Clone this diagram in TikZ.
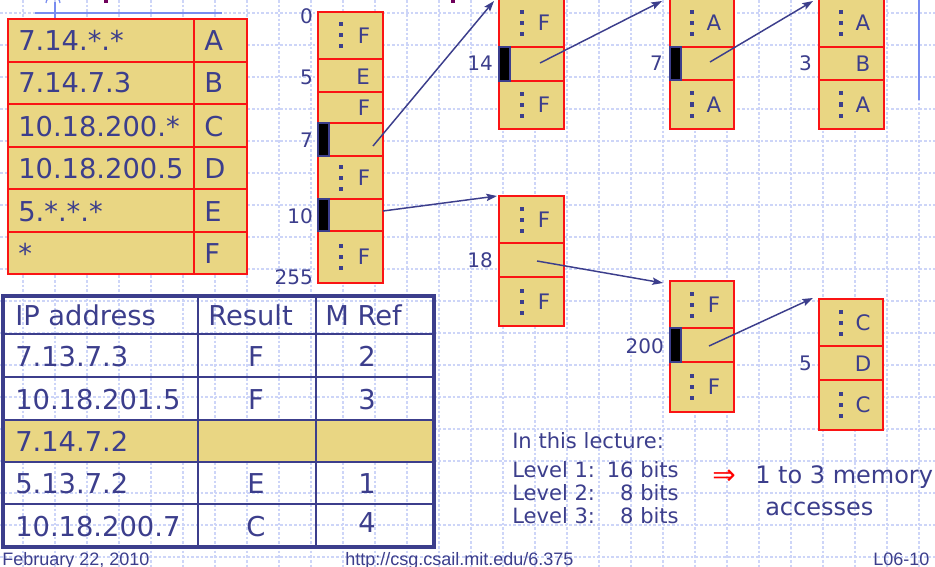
\documentclass[tikz,border=0pt]{standalone}
\usepackage{fontspec}
\setmainfont{DejaVu Sans}
\newfontfamily\footfont{Liberation Sans}
\usetikzlibrary{fit,arrows.meta}
\definecolor{tan}{RGB}{233,214,131}
\definecolor{tb}{RGB}{60,62,140}
\definecolor{gridc}{RGB}{205,213,248}
\definecolor{rline}{RGB}{250,20,20}
\definecolor{vblue}{RGB}{120,140,240}
\definecolor{purp}{RGB}{110,0,90}
\newcommand\sqdots[2]{\foreach \dy in {-11,0,11}{\fill[tb] ({#1-2},{#2+\dy-2}) rectangle ({#1+2},{#2+\dy+2});}}
\begin{document}
\begin{tikzpicture}[x=0.75pt,y=-0.75pt,
  cell/.style={draw=rline,fill=tan,line width=1.1pt,inner sep=0pt,outer sep=0pt},
  blk/.style={draw=tb,fill=black,line width=0.8pt,inner sep=0pt,outer sep=0pt},
  lt/.style={text=tb,font=\fontsize{16}{19}\selectfont,inner sep=0pt},
  lbl/.style={text=tb,font=\fontsize{15}{18}\selectfont,inner sep=0pt,anchor=east},
  bigtxt/.style={text=tb,font=\fontsize{20.5}{24}\selectfont,inner sep=0pt,anchor=base west},
  bigc/.style={text=tb,font=\fontsize{20.5}{24}\selectfont,inner sep=0pt,anchor=base},
  midtxt/.style={text=tb,font=\fontsize{15.8}{19}\selectfont,inner sep=0pt,anchor=base west},
  foot/.style={text=tb,font=\footfont\fontsize{13.5}{16}\selectfont,inner sep=0pt,anchor=base west},
  ptr/.style={draw=tb,line width=1.1pt,-{Stealth[length=8pt,width=5.5pt,inset=1.5pt]}},
  gridline/.style={draw=gridc,line width=0.8pt,dash pattern=on 2pt off 1.5pt},
]
\useasboundingbox (0,0) rectangle (935,567);
\clip (0,0) rectangle (935,567);
\fill[white] (0,0) rectangle (935,567);
% background grid
\foreach \gx in {23,55,...,919} \draw[gridline] (\gx,0) -- (\gx,567);
\foreach \gy in {13,45,...,557} \draw[gridline] (0,\gy) -- (935,\gy);
% decorations at the top
\draw[vblue,line width=1pt] (35,13) -- (222,13);
\draw[vblue,line width=0.9pt] (55,2) -- (55,20);
\draw[vblue,line width=0.9pt] (60,3) arc (0:-180:7 and 6);
\draw[vblue,line width=1.8pt] (919,0) -- (919,100);
\fill[purp] (104,0) rectangle (108,3);
\fill[purp] (451,0) rectangle (455,3);

% ---------- prefix table ----------
\fill[tan] (8,19) rectangle (247,274);
\foreach \ry in {62,104,147,232} \draw[rline,line width=1.1pt] (8,\ry) -- (247,\ry);
\draw[rline,line width=1.8pt] (8,189) -- (247,189);
\draw[rline,line width=1.1pt] (194,19) -- (194,274);
\draw[rline,line width=1.4pt] (8,19) rectangle (247,274);
\node[bigtxt] (p1) at (18,51) {7.14.*.*};
\node[bigtxt] (p2) at (18,93) {7.14.7.3};
\node[bigtxt] (p3) at (18,136) {10.18.200.*};
\node[bigtxt] (p4) at (18,178) {10.18.200.5};
\node[bigtxt] (p5) at (18,221) {5.*.*.*};
\node[bigtxt] (p6) at (18,263) {*};
\node[bigtxt] (r1) at (204,51) {A};
\node[bigtxt] (r2) at (204,93) {B};
\node[bigtxt] (r3) at (204,136) {C};
\node[bigtxt] (r4) at (204,178) {D};
\node[bigtxt] (r5) at (204,221) {E};
\node[bigtxt] (r6) at (204,263) {F};

% ---------- level 1 array ----------
\node[cell,fit={(318,12)(383,59)}] (La) {};
\node[cell,fit={(318,59)(383,92)}] (Lb) {};
\node[cell,fit={(318,92)(383,123)}] (Lc) {};
\node[cell,fit={(318,123)(383,156)}] (Ld) {};
\node[cell,fit={(318,156)(383,199)}] (Le) {};
\node[cell,fit={(318,199)(383,231)}] (Lf) {};
\node[cell,fit={(318,231)(383,283)}] (Lg) {};
\node[blk,fit={(318,123)(329,156)}] (Lmd) {};
\node[blk,fit={(318,199)(329,231)}] (Lmf) {};
\sqdots{341}{35.5}\sqdots{341}{177.5}\sqdots{341}{257}
\node[lt] (La-t) at (364,35.5) {F};
\node[lt] (Lb-t) at (363,77) {E};
\node[lt] (Lc-t) at (364,108) {F};
\node[lt] (Le-t) at (364,177.5) {F};
\node[lt] (Lg-t) at (364,257) {F};
\node[lbl] (l0) at (313,16) {0};
\node[lbl] (l5) at (313,77) {5};
\node[lbl] (l7) at (313,140) {7};
\node[lbl] (l10) at (313,216) {10};
\node[lbl] (l255) at (313,277) {255};

% ---------- level 2 array for 7 ----------
\node[cell,fit={(499,-1)(564,47)}] (Ma) {};
\node[cell,fit={(499,47)(564,81)}] (Mb) {};
\node[cell,fit={(499,81)(564,129)}] (Mc) {};
\node[blk,fit={(499,47)(510,81)}] (Mmb) {};
\sqdots{522}{23}\sqdots{522}{105}
\node[lt] (Ma-t) at (544,23) {F};
\node[lt] (Mc-t) at (544,105) {F};
\node[lbl] (l14) at (493,63) {14};

% ---------- level 2 array for 10 ----------
\node[cell,fit={(499,196)(564,243)}] (Na) {};
\node[cell,fit={(499,243)(564,277)}] (Nb) {};
\node[cell,fit={(499,277)(564,326)}] (Nc) {};
\sqdots{522}{219.5}\sqdots{522}{301.5}
\node[lt] (Na-t) at (544,219.5) {F};
\node[lt] (Nc-t) at (544,301.5) {F};
\node[lbl] (l18) at (493,260) {18};

% ---------- level 3 array for 7.14 ----------
\node[cell,fit={(670,-1)(734,47)}] (Pa) {};
\node[cell,fit={(670,47)(734,80)}] (Pb) {};
\node[cell,fit={(670,80)(734,129)}] (Pc) {};
\node[blk,fit={(670,47)(681,80)}] (Pmb) {};
\sqdots{692}{23}\sqdots{692}{104.5}
\node[lt] (Pa-t) at (714,23) {A};
\node[lt] (Pc-t) at (714,104.5) {A};
\node[lbl] (lp7) at (663,63) {7};

% ---------- level 4 array for 7.14.7 ----------
\node[cell,fit={(819,-1)(884,47)}] (Qa) {};
\node[cell,fit={(819,47)(884,80)}] (Qb) {};
\node[cell,fit={(819,80)(884,129)}] (Qc) {};
\sqdots{841}{23}\sqdots{841}{104.5}
\node[lt] (Qa-t) at (863,23) {A};
\node[lt] (Qb-t) at (863,64) {B};
\node[lt] (Qc-t) at (863,104.5) {A};
\node[lbl] (lq3) at (812,63) {3};

% ---------- level 3 array for 10.18 ----------
\node[cell,fit={(670,281)(734,328)}] (Ra) {};
\node[cell,fit={(670,328)(734,362)}] (Rb) {};
\node[cell,fit={(670,362)(734,412)}] (Rc) {};
\node[blk,fit={(670,328)(681,362)}] (Rmb) {};
\sqdots{692}{304.5}\sqdots{692}{387}
\node[lt] (Ra-t) at (714,304.5) {F};
\node[lt] (Rc-t) at (714,387) {F};
\node[lbl] (l200) at (664,346) {200};

% ---------- level 4 array for 10.18.200 ----------
\node[cell,fit={(819,299)(883,346)}] (Sa) {};
\node[cell,fit={(819,346)(883,380)}] (Sb) {};
\node[cell,fit={(819,380)(883,430)}] (Sc) {};
\sqdots{841}{322.5}\sqdots{841}{405}
\node[lt] (Sa-t) at (863,322.5) {C};
\node[lt] (Sb-t) at (863,364) {D};
\node[lt] (Sc-t) at (863,405) {C};
\node[lbl] (ls5) at (812,363) {5};

% ---------- pointers ----------
\coordinate (s1) at (373,146);  \coordinate (e1) at (494,1);
\coordinate (s2) at (383,211);  \coordinate (e2) at (497,196);
\coordinate (s3) at (540,63);   \coordinate (e3) at (662,1);
\coordinate (s4) at (710,62);   \coordinate (e4) at (813,1);
\coordinate (s5) at (537,261);  \coordinate (e5) at (663,283);
\coordinate (s6) at (709,346);  \coordinate (e6) at (813,298);
\draw[ptr] (s1) -- (e1);
\draw[ptr] (s2) -- (e2);
\draw[ptr] (s3) -- (e3);
\draw[ptr] (s4) -- (e4);
\draw[ptr] (s5) -- (e5);
\draw[ptr] (s6) -- (e6);

% ---------- lookup table ----------
\fill[tan] (3,420) rectangle (434,462);
\foreach \ry in {334,377,420,462,504} \draw[tb,line width=1.9pt] (3,\ry) -- (434,\ry);
\draw[tb,line width=1.9pt] (198,296) -- (198,547);
\draw[tb,line width=1.9pt] (316,296) -- (316,547);
\draw[tb,line width=2.4pt] (3,296) rectangle (434,547);
\node[bigtxt] (h1) at (15,325) {IP address};
\node[bigtxt] (h2) at (208,325) {Result};
\node[bigtxt] (h3) at (325,325) {M Ref};
\node[bigtxt] (a1) at (15,366) {7.13.7.3};
\node[bigtxt] (a2) at (15,409) {10.18.201.5};
\node[bigtxt] (a3) at (15,451) {7.14.7.2};
\node[bigtxt] (a4) at (15,493) {5.13.7.2};
\node[bigtxt] (a5) at (15,536) {10.18.200.7};
\node[bigc] (b1) at (256,366) {F};
\node[bigc] (b2) at (256,409) {F};
\node[bigc] (b4) at (256,493) {E};
\node[bigc] (b5) at (256,536) {C};
\node[bigc] (c1) at (367,366) {2};
\node[bigc] (c2) at (367,409) {3};
\node[bigc] (c4) at (367,493) {1};
\node[bigc] (c5) at (367,532) {4};

% ---------- notes ----------
\node[midtxt] (n0) at (512,448) {In this lecture:};
\node[midtxt] (n1) at (512,477) {Level 1:};
\node[midtxt] (n2) at (512,500) {Level 2:};
\node[midtxt] (n3) at (512,523) {Level 3:};
\node[midtxt,anchor=base east] (m1) at (679,477) {16 bits};
\node[midtxt,anchor=base east] (m2) at (679,500) {8 bits};
\node[midtxt,anchor=base east] (m3) at (679,523) {8 bits};
\node[text=red,font=\fontsize{21}{24}\selectfont,inner sep=0pt] (impl) at (724,477) {⇒};
\node[text=tb,font=\fontsize{18}{22}\selectfont,inner sep=0pt,anchor=base west] (k1) at (755,483) {1 to 3 memory};
\node[text=tb,font=\fontsize{18}{22}\selectfont,inner sep=0pt,anchor=base west] (k2) at (765,515) {accesses};

% ---------- footer ----------
\node[foot] (f1) at (2,565) {February 22, 2010};
\node[foot] (f2) at (345,565) {http://csg.csail.mit.edu/6.375};
\node[foot] (f3) at (873,565) {L06-10};
\end{tikzpicture}
\end{document}
